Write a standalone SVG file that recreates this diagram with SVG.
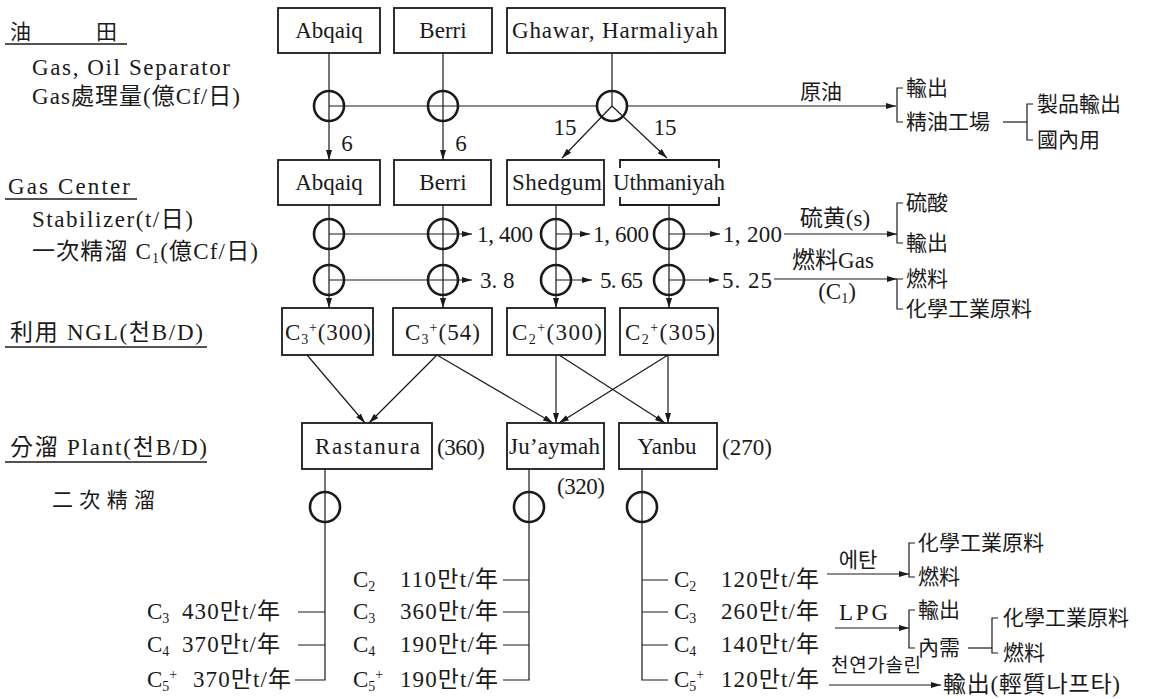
<svg xmlns="http://www.w3.org/2000/svg" width="1156" height="699" viewBox="0 0 1156 699">
<defs>
<style>
.t{font-family:'Liberation Serif','Noto Sans CJK KR',serif;font-size:23px;fill:#1a1a1a}
.cj{font-size:21px}
.c{text-anchor:middle}
.s{font-size:14px}
.box{fill:none;stroke:#1a1a1a;stroke-width:1.8}
.ln{fill:none;stroke:#1a1a1a;stroke-width:1.2}
.ul{fill:none;stroke:#1a1a1a;stroke-width:1.5}
.cir{fill:none;stroke:#1a1a1a;stroke-width:2.6}
.arr{marker-end:url(#ah)}
</style>
<marker id="ah" viewBox="0 0 10 6" refX="10" refY="3" markerWidth="10" markerHeight="6" markerUnits="userSpaceOnUse" orient="auto"><path d="M0,0 L10,3 L0,6 z" fill="#1a1a1a"/></marker>
</defs>
<rect width="1156" height="699" fill="#ffffff"/>

<g id="left-labels">
<text class="t cj" x="10" y="39">油</text><text class="t cj" x="96" y="39">田</text>
<line class="ul" x1="5" y1="44" x2="127" y2="44"/>
<text class="t" x="32" y="75" textLength="198">Gas, Oil Separator</text>
<text class="t" x="32" y="104" textLength="208">Gas處理量(億Cf/日)</text>
<text class="t" x="8" y="194" textLength="122">Gas Center</text>
<line class="ul" x1="5" y1="199" x2="137" y2="199"/>
<text class="t" x="32" y="227" textLength="161">Stabilizer(t/日)</text>
<text class="t" x="32" y="259" textLength="226">一次精溜 C<tspan class="s" dy="4">1</tspan><tspan dy="-4">(億Cf/日)</tspan></text>
<text class="t" x="10" y="340" textLength="193">利用 NGL(천B/D)</text>
<line class="ul" x1="5" y1="347" x2="207" y2="347"/>
<text class="t" x="10" y="455" textLength="197">分溜 Plant(천B/D)</text>
<line class="ul" x1="5" y1="462" x2="207" y2="462"/>
<text class="t cj" x="52" y="507" textLength="103">二 次 精 溜</text>
</g>

<g id="connectors">
<path class="ln arr" d="M329,53 V160"/>
<path class="ln arr" d="M443,53 V160"/>
<path class="ln" d="M612,53 V106"/>
<path class="ln arr" d="M612,106 L562,158"/>
<path class="ln arr" d="M612,106 L667,158"/>
<path class="ln" d="M329,106 H597"/>
<path class="ln arr" d="M627,106 H896"/>
<path class="ln" d="M903,88 H897 V122 H903"/>
<path class="ln" d="M1003,122 H1027"/>
<path class="ln" d="M1033,104 H1027 V140 H1033"/>
<path class="ln arr" d="M329,205 V308"/>
<path class="ln arr" d="M443,205 V308"/>
<path class="ln arr" d="M556,205 V308"/>
<path class="ln arr" d="M669,205 V308"/>
<path class="ln arr" d="M329,234 H472"/>
<path class="ln arr" d="M556,234 H590"/>
<path class="ln arr" d="M669,234 H720"/>
<path class="ln arr" d="M784,234 H897"/>
<path class="ln" d="M903,203 H897 V243 H903"/>
<path class="ln arr" d="M329,280 H472"/>
<path class="ln arr" d="M556,280 H592"/>
<path class="ln arr" d="M669,280 H719"/>
<path class="ln arr" d="M774,279 H897"/>
<path class="ln" d="M903,279 H897 V309 H903"/>
<path class="ln arr" d="M307,355 L365,423"/>
<path class="ln arr" d="M437,355 L369,423"/>
<path class="ln arr" d="M437,355 L553,423"/>
<path class="ln arr" d="M556,355 V423"/>
<path class="ln arr" d="M559,355 L665,423"/>
<path class="ln arr" d="M668,355 L559,423"/>
<path class="ln arr" d="M668,355 V423"/>
<path class="ln" d="M325,469 V680 H295"/>
<path class="ln" d="M298,612 H325 M298,645 H325"/>
<path class="ln" d="M529,469 V680 H503"/>
<path class="ln" d="M503,580 H529 M503,612 H529 M503,645 H529"/>
<path class="ln" d="M642,469 V680 H668"/>
<path class="ln" d="M642,580 H668 M642,612 H668 M642,645 H668"/>
<path class="ln arr" d="M827,574 H909"/>
<path class="ln" d="M915,543 H909 V577 H915"/>
<path class="ln arr" d="M835,628 H909"/>
<path class="ln" d="M915,610 H909 V648 H915"/>
<path class="ln" d="M968,648 H992"/>
<path class="ln" d="M998,618 H992 V653 H998"/>
<path class="ln arr" d="M829,685 H941"/>
</g>

<g id="field-abqaiq"><rect class="box" x="278" y="8" width="102" height="45"/><text class="t c" x="329" y="38">Abqaiq</text></g>
<g id="field-berri"><rect class="box" x="394" y="8" width="98" height="45"/><text class="t c" x="443" y="38">Berri</text></g>
<g id="field-ghawar"><rect class="box" x="507" y="8" width="218" height="45"/><text class="t" x="512" y="38" textLength="206">Ghawar, Harmaliyah</text></g>

<g id="sep-abqaiq"><circle class="cir" cx="329" cy="106" r="15"/><text class="t c" x="347" y="151">6</text></g>
<g id="sep-berri"><circle class="cir" cx="443" cy="106" r="15"/><text class="t c" x="461" y="151">6</text></g>
<g id="sep-ghawar"><circle class="cir" cx="612" cy="106" r="15"/><text class="t c" x="565" y="135">15</text><text class="t c" x="665" y="135">15</text></g>

<g id="crude-oil">
<text class="t cj c" x="821" y="99">原油</text>
<text class="t cj" x="906" y="95">輸出</text>
<text class="t cj" x="906" y="129">精油工場</text>
<text class="t cj" x="1037" y="111">製品輸出</text>
<text class="t cj" x="1037" y="147">國內用</text>
</g>

<g id="gc-abqaiq"><rect class="box" x="278" y="160" width="102" height="45"/><text class="t c" x="329" y="190">Abqaiq</text></g>
<g id="gc-berri"><rect class="box" x="394" y="160" width="97" height="45"/><text class="t c" x="443" y="190">Berri</text></g>
<g id="gc-shedgum"><rect class="box" x="507" y="160" width="97" height="45"/><text class="t" x="512" y="190" textLength="90">Shedgum</text></g>
<g id="gc-uthmaniyah"><path class="box" d="M620,168 V160 H719 V168 M620,197 V205 H719 V197"/><text class="t" x="613" y="190" textLength="112">Uthmaniyah</text></g>

<g id="stab-row">
<circle class="cir" cx="329" cy="234" r="15"/>
<circle class="cir" cx="443" cy="234" r="15"/>
<circle class="cir" cx="556" cy="234" r="15"/>
<circle class="cir" cx="669" cy="234" r="15"/>
<text class="t" x="477" y="242" textLength="56">1, 400</text>
<text class="t" x="593" y="242" textLength="56">1, 600</text>
<text class="t" x="723" y="242" textLength="59">1, 200</text>
<text class="t c" x="835" y="226">硫黄(s)</text>
<text class="t cj" x="906" y="210">硫酸</text>
<text class="t cj" x="906" y="250">輸出</text>
</g>

<g id="c1-row">
<circle class="cir" cx="329" cy="280" r="15"/>
<circle class="cir" cx="443" cy="280" r="15"/>
<circle class="cir" cx="556" cy="280" r="15"/>
<circle class="cir" cx="669" cy="280" r="15"/>
<text class="t" x="480" y="288">3. 8</text>
<text class="t" x="600" y="288" textLength="43">5. 65</text>
<text class="t" x="722" y="288" textLength="50">5. 25</text>
<text class="t c" x="833" y="268">燃料Gas</text>
<text class="t c" x="837" y="299">(C<tspan class="s" dy="4">1</tspan><tspan dy="-4">)</tspan></text>
<text class="t cj" x="906" y="286">燃料</text>
<text class="t cj" x="906" y="316">化學工業原料</text>
</g>

<g id="ngl-1"><rect class="box" x="282" y="308" width="91" height="47"/><text class="t" x="285" y="340" textLength="86">C<tspan class="s" dy="4">3</tspan><tspan class="s" dy="-12">+</tspan><tspan dy="8">(300)</tspan></text></g>
<g id="ngl-2"><rect class="box" x="393" y="308" width="99" height="47"/><text class="t" x="405" y="340" textLength="75">C<tspan class="s" dy="4">3</tspan><tspan class="s" dy="-12">+</tspan><tspan dy="8">(54)</tspan></text></g>
<g id="ngl-3"><rect class="box" x="507" y="308" width="98" height="47"/><text class="t" x="512" y="340" textLength="90">C<tspan class="s" dy="4">2</tspan><tspan class="s" dy="-12">+</tspan><tspan dy="8">(300)</tspan></text></g>
<g id="ngl-4"><rect class="box" x="620" y="308" width="98" height="47"/><text class="t" x="625" y="340" textLength="90">C<tspan class="s" dy="4">2</tspan><tspan class="s" dy="-12">+</tspan><tspan dy="8">(305)</tspan></text></g>

<g id="plant-rastanura"><rect class="box" x="302" y="423" width="130" height="46"/><text class="t" x="315" y="454" textLength="105">Rastanura</text><text class="t" x="437" y="455" textLength="48">(360)</text><circle class="cir" cx="325" cy="507" r="15"/></g>
<g id="plant-juaymah"><rect class="box" x="507" y="423" width="97" height="46"/><text class="t" x="509" y="454" textLength="91">Ju’aymah</text><text class="t" x="557" y="494" textLength="48">(320)</text><circle class="cir" cx="529" cy="507" r="15"/></g>
<g id="plant-yanbu"><rect class="box" x="619" y="423" width="98" height="46"/><text class="t c" x="667" y="454">Yanbu</text><text class="t" x="722" y="455" textLength="50">(270)</text><circle class="cir" cx="642" cy="507" r="15"/></g>

<g id="products-rastanura">
<text class="t" x="147" y="619">C<tspan class="s" dy="4">3</tspan></text><text class="t" x="182" y="619" textLength="98">430만t/年</text>
<text class="t" x="147" y="652">C<tspan class="s" dy="4">4</tspan></text><text class="t" x="182" y="652" textLength="98">370만t/年</text>
<text class="t" x="147" y="687">C<tspan class="s" dy="4">5</tspan><tspan class="s" dy="-12">+</tspan></text><text class="t" x="193" y="687" textLength="98">370만t/年</text>
</g>

<g id="products-juaymah">
<text class="t" x="353" y="587">C<tspan class="s" dy="4">2</tspan></text><text class="t" x="400" y="587" textLength="98">110만t/年</text>
<text class="t" x="353" y="619">C<tspan class="s" dy="4">3</tspan></text><text class="t" x="400" y="619" textLength="98">360만t/年</text>
<text class="t" x="353" y="652">C<tspan class="s" dy="4">4</tspan></text><text class="t" x="400" y="652" textLength="98">190만t/年</text>
<text class="t" x="353" y="687">C<tspan class="s" dy="4">5</tspan><tspan class="s" dy="-12">+</tspan></text><text class="t" x="400" y="687" textLength="98">190만t/年</text>
</g>

<g id="products-yanbu">
<text class="t" x="674" y="587">C<tspan class="s" dy="4">2</tspan></text><text class="t" x="721" y="587" textLength="98">120만t/年</text>
<text class="t" x="674" y="619">C<tspan class="s" dy="4">3</tspan></text><text class="t" x="721" y="619" textLength="98">260만t/年</text>
<text class="t" x="674" y="652">C<tspan class="s" dy="4">4</tspan></text><text class="t" x="721" y="652" textLength="98">140만t/年</text>
<text class="t" x="674" y="687">C<tspan class="s" dy="4">5</tspan><tspan class="s" dy="-12">+</tspan></text><text class="t" x="721" y="687" textLength="98">120만t/年</text>
<text class="t cj c" x="858" y="567">에탄</text>
<text class="t cj" x="918" y="550">化學工業原料</text>
<text class="t cj" x="918" y="584">燃料</text>
<text class="t" x="839" y="620" textLength="49">LPG</text>
<text class="t cj" x="918" y="617">輸出</text>
<text class="t cj" x="918" y="655">內需</text>
<text class="t cj" x="1003" y="625">化學工業原料</text>
<text class="t cj" x="1003" y="660">燃料</text>
<text class="t" x="831" y="672" style="font-size:19px" textLength="90">천연가솔린</text>
<text class="t" x="943" y="692" textLength="177">輸出(輕質나프타)</text>
</g>
</svg>
